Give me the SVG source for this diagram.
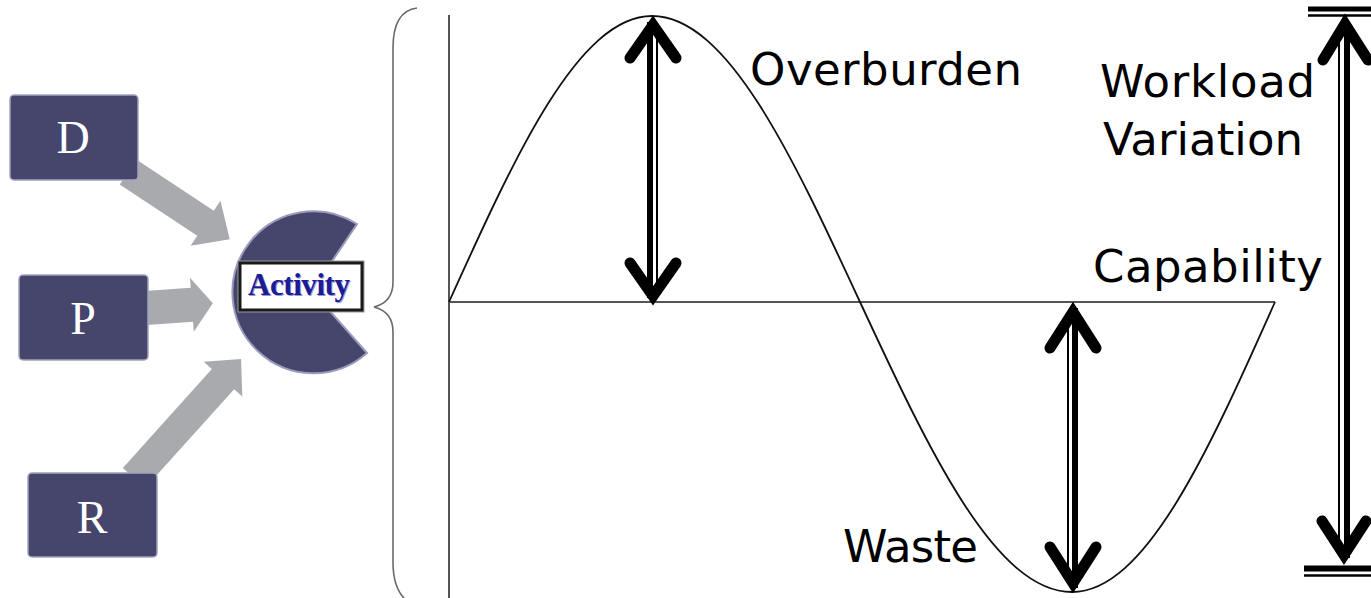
<svg xmlns="http://www.w3.org/2000/svg" width="1371" height="598" viewBox="0 0 1371 598">
  <style>
    .box { fill: #46456c; stroke: #a3a3bf; stroke-width: 1.5; }
    .letter { font-family: "Liberation Serif", "Times New Roman", serif; font-size: 46px; fill: #ffffff; text-anchor: middle; }
    .garrow { fill: #a9aaae; }
    .axis { stroke: #555555; stroke-width: 2; fill: none; }
    .curve { stroke: #111111; stroke-width: 1.8; fill: none; }
    .brace { stroke: #6a6a6a; stroke-width: 1.6; fill: none; }
    .label { font-family: "DejaVu Sans", Verdana, sans-serif; font-size: 45px; fill: #000000; }
    .head { stroke: #000000; stroke-width: 11; fill: none; stroke-linecap: round; stroke-linejoin: miter; stroke-miterlimit: 10; }
    .thick { stroke: #000000; stroke-width: 6; }
    .thin { stroke: #000000; stroke-width: 2; }
    .act { font-family: "Liberation Serif", "Times New Roman", serif; font-weight: bold; font-size: 31px; text-anchor: middle; }
  </style>

  <g id="connectors">
    <polygon id="arrow-D" class="garrow" transform="translate(128,172) rotate(33.5)" points="0,-15 93,-15 93,-27 122,0 93,27 93,15 0,15"/>
    <polygon id="arrow-P" class="garrow" transform="translate(146,308) rotate(-4)" points="0,-17 46,-17 46,-27 67,0 46,27 46,17 0,17"/>
    <polygon id="arrow-R" class="garrow" transform="translate(134,478) rotate(-48)" points="0,-15 133,-15 133,-26 160,0 133,26 133,15 0,15"/>
  </g>

  <g id="node-D">
    <rect class="box" x="10" y="95" width="128" height="85" rx="4"/>
    <text class="letter" x="73" y="153">D</text>
  </g>
  <g id="node-P">
    <rect class="box" x="19" y="275" width="129" height="85" rx="4"/>
    <text class="letter" x="83" y="334">P</text>
  </g>
  <g id="node-R">
    <rect class="box" x="28" y="473" width="129" height="84" rx="4"/>
    <text class="letter" x="92" y="533">R</text>
  </g>

  <g id="node-activity">
    <path d="M 312,291 L 357,224 A 81 81 0 1 0 367,353 Z" fill="#46456c" stroke="#9b9bbd" stroke-width="2"/>
    <rect x="240" y="263" width="122" height="47" fill="#ffffff" stroke="#9a9a9a" stroke-width="5"/>
    <rect x="240" y="263" width="122" height="47" fill="#ffffff" stroke="#1a1a1a" stroke-width="3"/>
    <text class="act" x="300" y="296" fill="#9a9ad0" textLength="102">Activity</text>
    <text class="act" x="299" y="295" fill="#1c1c96" textLength="102">Activity</text>
  </g>

  <g id="brace">
    <path class="brace" d="M 417,8 C 401,10 393,24 393,48 L 393,282 C 393,297 386,304 374,307 C 386,310 393,317 393,332 L 393,562 C 393,582 398,593 406,600"/>
  </g>

  <g id="chart">
    <line class="axis" x1="449" y1="15" x2="449" y2="598"/>
    <line class="axis" x1="449" y1="302" x2="1275" y2="302"/>
    <path class="curve" d="M 449,302 C 515.2,155.5 578.5,16 652,16 C 727.3,16 792.2,155.5 860,302 C 929.1,450.6 995.3,592 1072,592 C 1145.5,592 1208.8,450.6 1275,302"/>
  </g>

  <g id="arrow-overburden">
    <line class="thick" x1="650" y1="22" x2="650" y2="298"/>
    <line class="thin" x1="657" y1="26" x2="657" y2="294"/>
    <polyline class="head" points="630,58 653,25 676,58"/>
    <polyline class="head" points="630,263 653,296 676,263"/>
  </g>

  <g id="arrow-waste">
    <line class="thin" x1="1068" y1="312" x2="1068" y2="584"/>
    <line class="thick" x1="1075" y1="308" x2="1075" y2="588"/>
    <polyline class="head" points="1050,348 1073,312 1096,348"/>
    <polyline class="head" points="1050,547 1073,583 1096,547"/>
  </g>

  <g id="arrow-workload">
    <line x1="1308" y1="9" x2="1371" y2="9" stroke="#000" stroke-width="5"/>
    <line x1="1308" y1="15.5" x2="1371" y2="15.5" stroke="#000" stroke-width="2.5"/>
    <line class="thin" x1="1339" y1="28" x2="1339" y2="552"/>
    <line class="thick" x1="1347" y1="22" x2="1347" y2="558"/>
    <polyline class="head" points="1323,60 1345,24 1368,60"/>
    <polyline class="head" points="1322,521 1344,555 1366,521"/>
    <line x1="1304" y1="568.5" x2="1371" y2="568.5" stroke="#000" stroke-width="6"/>
    <line x1="1304" y1="575.5" x2="1371" y2="575.5" stroke="#000" stroke-width="2.5"/>
  </g>

  <g id="labels">
    <text class="label" x="750" y="85" textLength="272">Overburden</text>
    <text class="label" x="1100" y="97" textLength="215">Workload</text>
    <text class="label" x="1103" y="155" textLength="200">Variation</text>
    <text class="label" x="1093" y="282" textLength="230">Capability</text>
    <text class="label" x="843" y="562" textLength="135">Waste</text>
  </g>
</svg>
